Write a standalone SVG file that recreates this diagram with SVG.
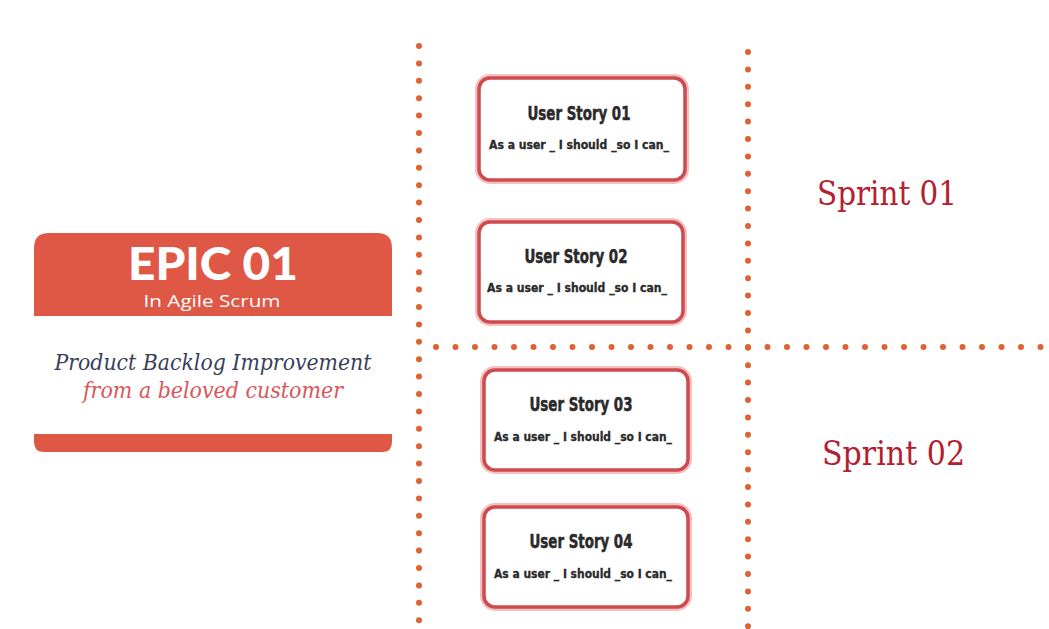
<svg xmlns="http://www.w3.org/2000/svg" width="1049" height="629" viewBox="0 0 1049 629">
<defs>
<style>
.dots{stroke:#de6234;stroke-width:6;stroke-linecap:round;fill:none}
.glow{fill:none;stroke:#f4c0c0;stroke-width:8}
.box{fill:#ffffff;stroke:#cf4a4f;stroke-width:3.5}
.ttl{font-family:"DejaVu Sans Condensed","DejaVu Sans",sans-serif;font-weight:bold;font-stretch:condensed;font-size:19px;fill:#2a2a2a;text-anchor:middle;stroke:#2a2a2a;stroke-width:0.5}
.sub{font-family:"DejaVu Sans Condensed","DejaVu Sans",sans-serif;font-weight:bold;font-stretch:condensed;font-size:12.5px;fill:#2a2a2a;text-anchor:middle;stroke:#2a2a2a;stroke-width:0.3}
.sprint{font-family:"DejaVu Serif","Liberation Serif",serif;font-size:33px;fill:#b3202f}
.band{fill:#df5846}
.cur{font-family:"DejaVu Serif","Liberation Serif",serif;font-style:italic;font-size:22px;text-anchor:middle}
</style>
</defs>
<rect width="1049" height="629" fill="#ffffff"/>
<g id="grid">
<line class="dots" x1="419" y1="46" x2="419" y2="629" stroke-dasharray="0 17.4"/>
<line class="dots" x1="748" y1="52" x2="748" y2="629" stroke-dasharray="0 17.4"/>
<line class="dots" x1="436" y1="347" x2="1049" y2="347" stroke-dasharray="0 19.5"/>
</g>
<g id="epic">
<path class="band" d="M34 316 V248 Q34 233 49 233 H377 Q392 233 392 248 V316 Z"/>
<text x="213" y="280" font-family="Lato,'Open Sans',sans-serif" font-weight="900" font-size="46" fill="#ffffff" text-anchor="middle" textLength="170" lengthAdjust="spacingAndGlyphs">EPIC 01</text>
<text x="212" y="307" font-family="'Open Sans',Lato,sans-serif" font-size="17" fill="#ffffff" text-anchor="middle" textLength="137" lengthAdjust="spacingAndGlyphs">In Agile Scrum</text>
<text class="cur" x="213" y="370" fill="#3a3f5c" textLength="317" lengthAdjust="spacingAndGlyphs">Product Backlog Improvement</text>
<text class="cur" x="213" y="398" fill="#d9575a" textLength="260" lengthAdjust="spacingAndGlyphs">from a beloved customer</text>
<path class="band" d="M34 434 H392 V442 Q392 452 382 452 H44 Q34 452 34 442 Z"/>
</g>
<g id="story1">
<rect class="glow" x="479" y="78" width="206" height="102" rx="11"/>
<rect class="box" x="479" y="78" width="206" height="102" rx="11"/>
<text class="ttl" x="579" y="120" textLength="103" lengthAdjust="spacingAndGlyphs">User Story 01</text>
<text class="sub" x="579" y="149" textLength="180" lengthAdjust="spacingAndGlyphs">As a user _ I should _so I can_</text>
</g>
<g id="story2">
<rect class="glow" x="479" y="222" width="204" height="100" rx="11"/>
<rect class="box" x="479" y="222" width="204" height="100" rx="11"/>
<text class="ttl" x="576" y="263" textLength="103" lengthAdjust="spacingAndGlyphs">User Story 02</text>
<text class="sub" x="577" y="292" textLength="180" lengthAdjust="spacingAndGlyphs">As a user _ I should _so I can_</text>
</g>
<g id="story3">
<rect class="glow" x="484" y="370" width="204" height="100" rx="11"/>
<rect class="box" x="484" y="370" width="204" height="100" rx="11"/>
<text class="ttl" x="581" y="411" textLength="103" lengthAdjust="spacingAndGlyphs">User Story 03</text>
<text class="sub" x="583" y="441" textLength="178" lengthAdjust="spacingAndGlyphs">As a user _ I should _so I can_</text>
</g>
<g id="story4">
<rect class="glow" x="484" y="507" width="204" height="100" rx="11"/>
<rect class="box" x="484" y="507" width="204" height="100" rx="11"/>
<text class="ttl" x="581" y="548" textLength="103" lengthAdjust="spacingAndGlyphs">User Story 04</text>
<text class="sub" x="583" y="578" textLength="178" lengthAdjust="spacingAndGlyphs">As a user _ I should _so I can_</text>
</g>
<g id="sprint1">
<text class="sprint" x="817" y="205" textLength="140" lengthAdjust="spacingAndGlyphs">Sprint 01</text>
</g>
<g id="sprint2">
<text class="sprint" x="822" y="465" textLength="143" lengthAdjust="spacingAndGlyphs">Sprint 02</text>
</g>
</svg>
